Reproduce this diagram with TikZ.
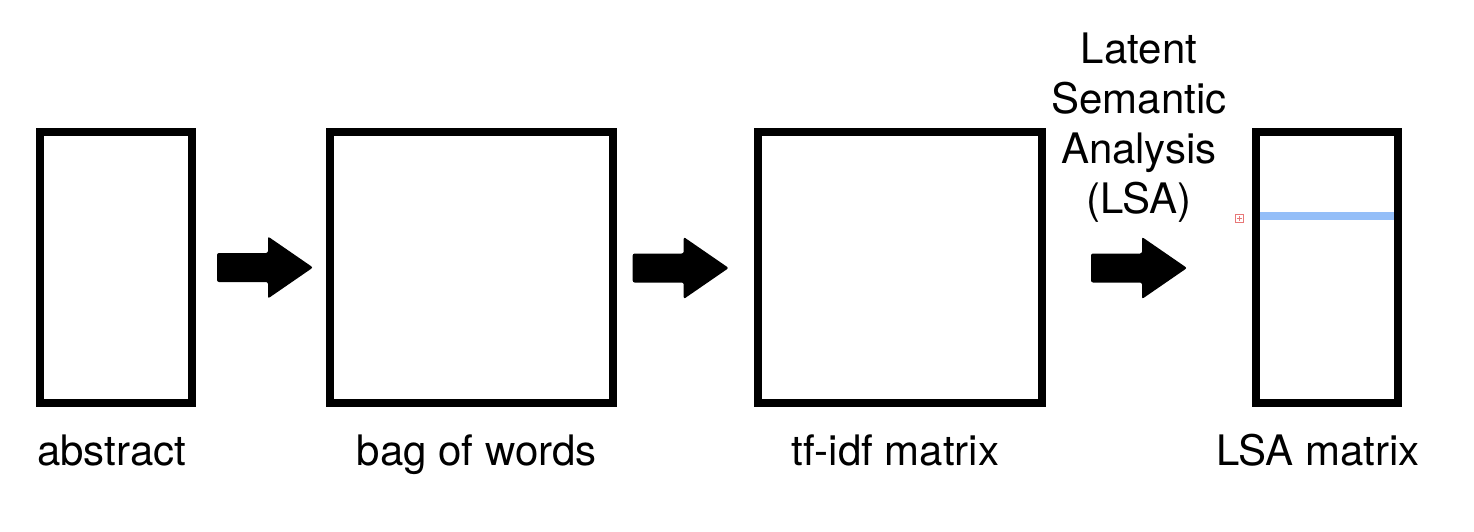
\documentclass[tikz,border=0pt]{standalone}
\usepackage{fontspec}
\setmainfont{TeX Gyre Heros}
\usetikzlibrary{calc}
\definecolor{lsablue}{RGB}{148,190,248}
\definecolor{markred}{RGB}{232,120,120}
\tikzset{
  matbox/.style={draw=black, line width=8pt, inner sep=0pt, minimum height=271pt},
  lbl/.style={anchor=base, inner sep=0pt, font=\fontsize{42}{50}\selectfont},
  blockarrow/.pic={\fill[black, rounded corners=2pt] (0,-14.5) -- (51,-14.5) -- (51,-31) -- (96,0) -- (51,31) -- (51,14.5) -- (0,14.5) -- cycle;}
}
\begin{document}
\begin{tikzpicture}[x=1pt, y=-1pt]
\useasboundingbox (0,0) rectangle (1474,532);
% boxes
\node[matbox, minimum width=152pt] (abs) at (116,267.5) {};
\node[matbox, minimum width=283pt] (bag) at (471.5,267.5) {};
\node[matbox, minimum width=284pt] (tfidf) at (900,267.5) {};
\node[matbox, minimum width=142pt] (lsa) at (1327,267.5) {};
% highlighted row
\draw[lsablue, line width=8pt] (1260,216) -- (1394,216);
% small overflow marker
\draw[markred, line width=1pt] (1235.5,214.5) rectangle (1243.5,222.5);
\draw[markred, line width=1pt] (1237,218.5) -- (1242,218.5) (1239.5,216) -- (1239.5,221);
% block arrows
\pic at (217,267.5) {blockarrow};
\pic at (632.7,268) {blockarrow};
\pic at (1091,268) {blockarrow};
% labels
\node[lbl] (tabs) at (111.7,465) {abstract};
\node[lbl] (tbag) at (476.7,465) {bag of words};
\node[lbl] (ttf) at (895.2,465) {tf-idf matrix};
\node[lbl] (tlsa) at (1318,465) {LSA matrix};
\node[lbl, align=center] (tmethod) at (1139,213.3) {Latent\\Semantic\\Analysis\\(LSA)};
\end{tikzpicture}
\end{document}
